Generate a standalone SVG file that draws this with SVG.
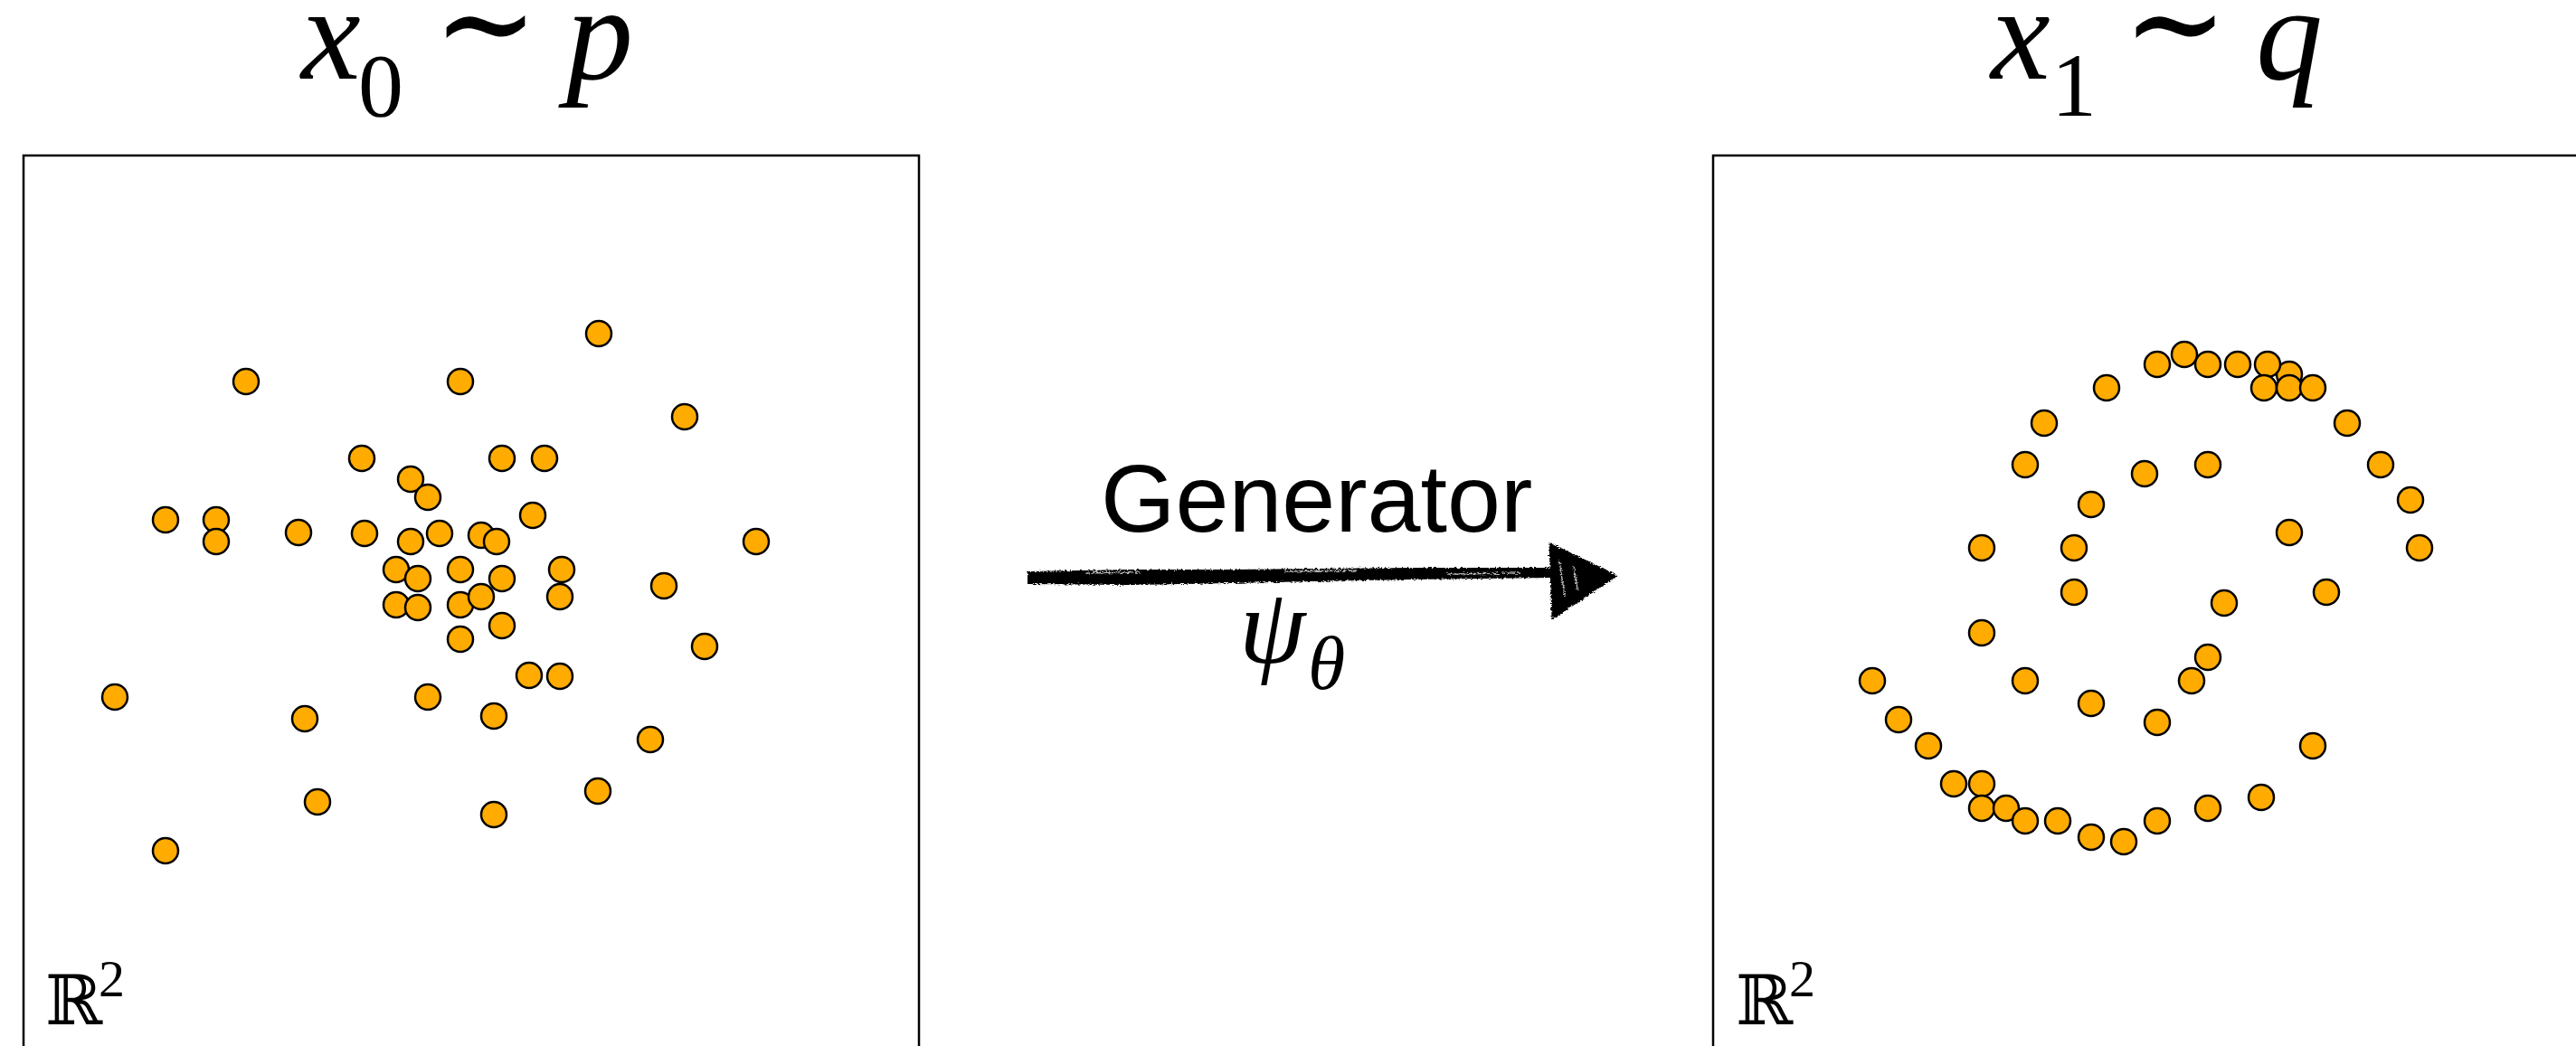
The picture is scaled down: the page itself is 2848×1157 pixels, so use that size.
<svg xmlns="http://www.w3.org/2000/svg" width="2848" height="1157" viewBox="0 0 2848 1157">
<style>
.pt{fill:#FFAB00;stroke:#000;stroke-width:2.5}
.box{fill:none;stroke:#000;stroke-width:2.5}
.m{font-family:"Liberation Serif","Times New Roman",serif;fill:#000}
.it{font-style:italic}
.ds{font-family:"DejaVu Serif","DejaVu Sans",serif;fill:#000}
.sans{font-family:"Liberation Sans",Arial,sans-serif;fill:#000}
</style>
<defs>
<filter id="rough" x="-5%" y="-50%" width="110%" height="200%">
<feTurbulence type="fractalNoise" baseFrequency="0.35 0.9" numOctaves="2" seed="3" result="n"/>
<feDisplacementMap in="SourceGraphic" in2="n" scale="5" xChannelSelector="R" yChannelSelector="G"/>
</filter>
</defs>
<rect width="2848" height="1157" fill="#fff"/>

<g id="title-left">
<text class="m it" x="333" y="87" font-size="148">x</text>
<text class="m" x="396" y="128" font-size="100">0</text>
<text class="ds" x="537" y="72" font-size="136" text-anchor="middle" stroke="#000" stroke-width="1.5">∼</text>
<text class="m it" x="626" y="87" font-size="148">p</text>
</g>
<g id="title-right">
<text class="m it" x="2201" y="87" font-size="148">x</text>
<text class="m" x="2268" y="128" font-size="100">1</text>
<text class="ds" x="2405" y="72" font-size="136" text-anchor="middle" stroke="#000" stroke-width="1.5">∼</text>
<text class="m it" x="2494" y="87" font-size="148">q</text>
</g>

<g id="panel-left">
<rect class="box" x="26" y="172" width="990" height="1010"/>
<text class="ds" x="50" y="1133" font-size="76">ℝ</text>
<text class="m" x="109" y="1102" font-size="58">2</text>
<g id="points-left">
<circle class="pt" cx="662" cy="369" r="14"/>
<circle class="pt" cx="272" cy="422" r="14"/>
<circle class="pt" cx="509" cy="422" r="14"/>
<circle class="pt" cx="757" cy="461" r="14"/>
<circle class="pt" cx="400" cy="507" r="14"/>
<circle class="pt" cx="555" cy="507" r="14"/>
<circle class="pt" cx="602" cy="507" r="14"/>
<circle class="pt" cx="454" cy="530" r="14"/>
<circle class="pt" cx="473" cy="550" r="14"/>
<circle class="pt" cx="183" cy="575" r="14"/>
<circle class="pt" cx="239" cy="575" r="14"/>
<circle class="pt" cx="239" cy="599" r="14"/>
<circle class="pt" cx="330" cy="589" r="14"/>
<circle class="pt" cx="403" cy="590" r="14"/>
<circle class="pt" cx="454" cy="599" r="14"/>
<circle class="pt" cx="486" cy="590" r="14"/>
<circle class="pt" cx="532" cy="592" r="14"/>
<circle class="pt" cx="549" cy="599" r="14"/>
<circle class="pt" cx="589" cy="570" r="14"/>
<circle class="pt" cx="836" cy="599" r="14"/>
<circle class="pt" cx="438" cy="630" r="14"/>
<circle class="pt" cx="462" cy="640" r="14"/>
<circle class="pt" cx="509" cy="630" r="14"/>
<circle class="pt" cx="555" cy="640" r="14"/>
<circle class="pt" cx="621" cy="630" r="14"/>
<circle class="pt" cx="438" cy="669" r="14"/>
<circle class="pt" cx="462" cy="672" r="14"/>
<circle class="pt" cx="509" cy="669" r="14"/>
<circle class="pt" cx="532" cy="660" r="14"/>
<circle class="pt" cx="619" cy="660" r="14"/>
<circle class="pt" cx="734" cy="648" r="14"/>
<circle class="pt" cx="555" cy="692" r="14"/>
<circle class="pt" cx="509" cy="707" r="14"/>
<circle class="pt" cx="779" cy="715" r="14"/>
<circle class="pt" cx="585" cy="747" r="14"/>
<circle class="pt" cx="619" cy="748" r="14"/>
<circle class="pt" cx="127" cy="771" r="14"/>
<circle class="pt" cx="473" cy="771" r="14"/>
<circle class="pt" cx="337" cy="795" r="14"/>
<circle class="pt" cx="546" cy="792" r="14"/>
<circle class="pt" cx="719" cy="818" r="14"/>
<circle class="pt" cx="661" cy="875" r="14"/>
<circle class="pt" cx="351" cy="887" r="14"/>
<circle class="pt" cx="546" cy="901" r="14"/>
<circle class="pt" cx="183" cy="941" r="14"/>
</g>
</g>

<g id="panel-right">
<rect class="box" x="1894" y="172" width="1010" height="1010"/>
<text class="ds" x="1919" y="1133" font-size="76">ℝ</text>
<text class="m" x="1978" y="1102" font-size="58">2</text>
<g id="points-right">
<circle class="pt" cx="2531" cy="414" r="14"/>
<circle class="pt" cx="2415" cy="392" r="14"/>
<circle class="pt" cx="2385" cy="403" r="14"/>
<circle class="pt" cx="2441" cy="403" r="14"/>
<circle class="pt" cx="2474" cy="403" r="14"/>
<circle class="pt" cx="2507" cy="403" r="14"/>
<circle class="pt" cx="2503" cy="429" r="14"/>
<circle class="pt" cx="2531" cy="429" r="14"/>
<circle class="pt" cx="2557" cy="429" r="14"/>
<circle class="pt" cx="2329" cy="429" r="14"/>
<circle class="pt" cx="2260" cy="468" r="14"/>
<circle class="pt" cx="2595" cy="468" r="14"/>
<circle class="pt" cx="2239" cy="514" r="14"/>
<circle class="pt" cx="2371" cy="524" r="14"/>
<circle class="pt" cx="2441" cy="514" r="14"/>
<circle class="pt" cx="2632" cy="514" r="14"/>
<circle class="pt" cx="2312" cy="558" r="14"/>
<circle class="pt" cx="2665" cy="553" r="14"/>
<circle class="pt" cx="2191" cy="606" r="14"/>
<circle class="pt" cx="2293" cy="606" r="14"/>
<circle class="pt" cx="2531" cy="589" r="14"/>
<circle class="pt" cx="2675" cy="606" r="14"/>
<circle class="pt" cx="2293" cy="655" r="14"/>
<circle class="pt" cx="2459" cy="667" r="14"/>
<circle class="pt" cx="2572" cy="655" r="14"/>
<circle class="pt" cx="2191" cy="700" r="14"/>
<circle class="pt" cx="2441" cy="727" r="14"/>
<circle class="pt" cx="2070" cy="753" r="14"/>
<circle class="pt" cx="2239" cy="753" r="14"/>
<circle class="pt" cx="2423" cy="753" r="14"/>
<circle class="pt" cx="2312" cy="778" r="14"/>
<circle class="pt" cx="2099" cy="796" r="14"/>
<circle class="pt" cx="2385" cy="799" r="14"/>
<circle class="pt" cx="2132" cy="825" r="14"/>
<circle class="pt" cx="2557" cy="825" r="14"/>
<circle class="pt" cx="2160" cy="867" r="14"/>
<circle class="pt" cx="2191" cy="867" r="14"/>
<circle class="pt" cx="2191" cy="894" r="14"/>
<circle class="pt" cx="2218" cy="894" r="14"/>
<circle class="pt" cx="2239" cy="908" r="14"/>
<circle class="pt" cx="2275" cy="908" r="14"/>
<circle class="pt" cx="2312" cy="926" r="14"/>
<circle class="pt" cx="2348" cy="931" r="14"/>
<circle class="pt" cx="2385" cy="908" r="14"/>
<circle class="pt" cx="2441" cy="894" r="14"/>
<circle class="pt" cx="2500" cy="882" r="14"/>
</g>
</g>

<g id="connectors">
<g id="arrow-generator" filter="url(#rough)">
<path d="M1136,632 L1250,630 L1360,630 L1560,628 L1716,628 L1716,639 L1560,641 L1360,645 L1250,647 L1136,646 Z" fill="#000"/>
<path d="M1714,602 L1786,637 L1717,683 Z" fill="#000" stroke="#000" stroke-width="3" stroke-linejoin="round"/>
<path d="M1724,620 L1730,660 M1740,626 L1744,652 M1200,634 L1260,633 M1420,632 L1500,631 M1600,635 L1680,634" stroke="#fff" stroke-width="1.5" fill="none" opacity="0.7"/>
</g>
</g>

<g id="label-generator">
<text class="sans" x="1217" y="588" font-size="106">Generator</text>
</g>
<g id="label-psi">
<text class="m it" x="1370" y="733" font-size="118">ψ</text>
<text class="m it" x="1446" y="762" font-size="84">θ</text>
</g>
</svg>
